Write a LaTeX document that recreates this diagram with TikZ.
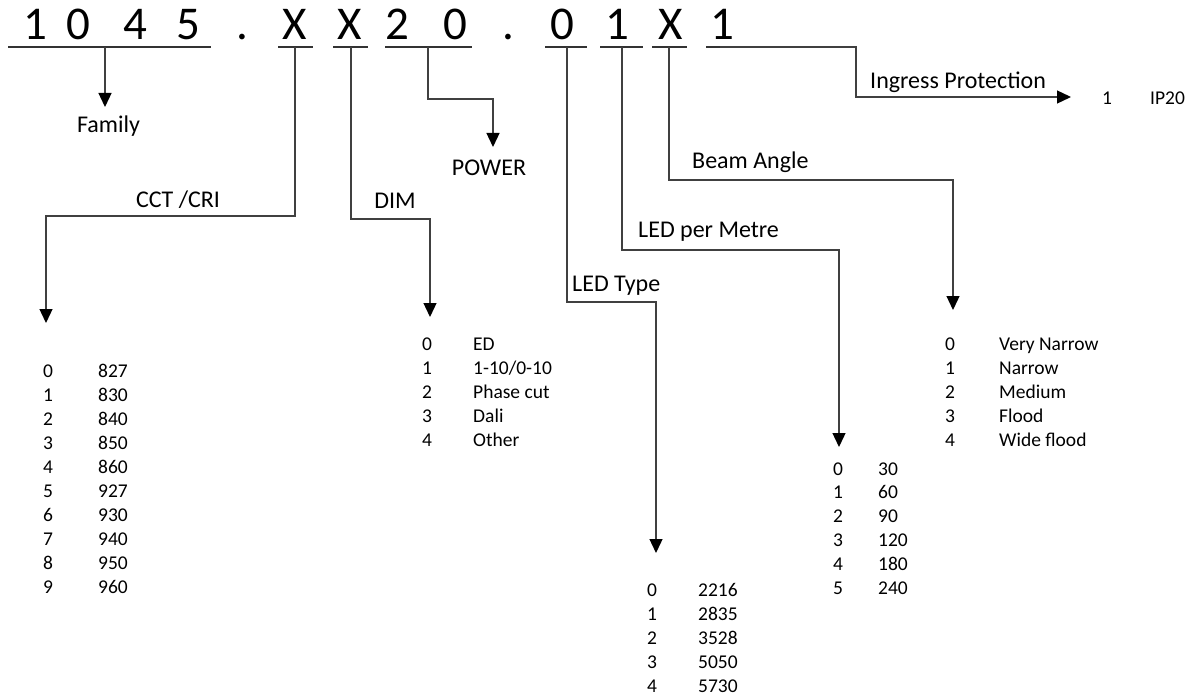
\documentclass[tikz,border=0pt]{standalone}
\usepackage{fontspec}
\setmainfont{Carlito}
\usetikzlibrary{arrows.meta}
\begin{document}
\begin{tikzpicture}[x=1pt,y=-1pt,
  conn/.style={draw=black!75, line width=1.3pt},
  arr/.style={conn, -{Triangle[width=13pt,length=14pt,color=black]}},
  code/.style={inner sep=0pt, anchor=base, font=\fontsize{47}{56}\selectfont},
  lbl/.style={inner sep=0pt, anchor=base west, font=\fontsize{24}{29}\selectfont},
  lblc/.style={lbl, anchor=base},
  item/.style={inner sep=0pt, anchor=base west, font=\fontsize{19.5}{24}\selectfont},
  uline/.style={draw=black!80, line width=1.3pt}]
\useasboundingbox (0,0) rectangle (1196,698);

% code characters
\foreach \ch/\x [count=\i] in {1/35,0/78,4/135,5/188,./242,X/295,X/350,2/397,0/455,./508,0/562,1/617,X/671,1/722}
  \node[code] (c\i) at (\x,40) {\ch};

% underlines
\draw[uline] (8,47) -- (211,47);
\draw[uline] (278,47) -- (313,47);
\draw[uline] (333,47) -- (368,47);
\draw[uline] (385,47) -- (472,47);
\draw[uline] (545,47) -- (587,47);
\draw[uline] (600,47) -- (643,47);
\draw[uline] (652,47) -- (687,47);
\draw[uline] (706,47) -- (740,47);

% connector anchors
\coordinate (s-fam) at (105,47);  \coordinate (t-fam) at (105,107);
\coordinate (s-cct) at (295,47);  \coordinate (j-cct) at (46,216);  \coordinate (t-cct) at (46,323);
\coordinate (s-dim) at (351,47);  \coordinate (j-dim) at (430,219); \coordinate (t-dim) at (430,317);
\coordinate (s-pow) at (428,47);  \coordinate (j-pow) at (493,99);  \coordinate (t-pow) at (493,147);
\coordinate (s-typ) at (567,47);  \coordinate (j-typ) at (656,302); \coordinate (t-typ) at (656,553);
\coordinate (s-lpm) at (622,47);  \coordinate (j-lpm) at (839,250); \coordinate (t-lpm) at (839,447);
\coordinate (s-bea) at (669,47);  \coordinate (j-bea) at (953,180); \coordinate (t-bea) at (953,310);
\coordinate (s-ing) at (720,47);  \coordinate (j-ing) at (856,97);  \coordinate (t-ing) at (1071,97);

\draw[arr] (s-fam) -- (t-fam);
\draw[arr] (s-cct) |- (j-cct) -- (t-cct);
\draw[arr] (s-dim) |- (j-dim) -- (t-dim);
\draw[arr] (s-pow) |- (j-pow) -- (t-pow);
\draw[arr] (s-typ) |- (j-typ) -- (t-typ);
\draw[arr] (s-lpm) |- (j-lpm) -- (t-lpm);
\draw[arr] (s-bea) |- (j-bea) -- (t-bea);
\draw[arr] (s-ing) -| (j-ing) -- (t-ing);

% labels
\node[lblc] (l-fam) at (108.5,132) {Family};
\node[lblc] (l-cct) at (178,207) {CCT /CRI};
\node[lblc] (l-dim) at (395,208) {DIM};
\node[lblc] (l-pow) at (489,175) {POWER};
\node[lbl] (l-typ) at (572,291) {LED Type};
\node[lbl] (l-lpm) at (638,237) {LED per Metre};
\node[lbl] (l-bea) at (692,168) {Beam Angle};
\node[lbl] (l-ing) at (870,89) {Ingress Protection};

% lists
\foreach \v [count=\i from 0] in {827,830,840,850,860,927,930,940,950,960} {
  \node[item] (cct-i\i) at (43,377+24*\i) {\i};
  \node[item] (cct-v\i) at (98,377+24*\i) {\v};
}
\foreach \v [count=\i from 0] in {ED,1-10/0-10,Phase cut,Dali,Other} {
  \node[item] (dim-i\i) at (422,350+24.2*\i) {\i};
  \node[item] (dim-v\i) at (473,350+24.2*\i) {\v};
}
\foreach \v [count=\i from 0] in {2216,2835,3528,5050,5730} {
  \node[item] (typ-i\i) at (647,596+24*\i) {\i};
  \node[item] (typ-v\i) at (698,596+24*\i) {\v};
}
\foreach \v [count=\i from 0] in {30,60,90,120,180,240} {
  \node[item] (lpm-i\i) at (833,475+23.8*\i) {\i};
  \node[item] (lpm-v\i) at (878,475+23.8*\i) {\v};
}
\foreach \v [count=\i from 0] in {Very Narrow,Narrow,Medium,Flood,Wide flood} {
  \node[item] (bea-i\i) at (945,350+24*\i) {\i};
  \node[item] (bea-v\i) at (999,350+24*\i) {\v};
}
\node[item] (ing-i1) at (1102,105) {1};
\node[item] (ing-v1) at (1150,105) {IP20};
\end{tikzpicture}
\end{document}
